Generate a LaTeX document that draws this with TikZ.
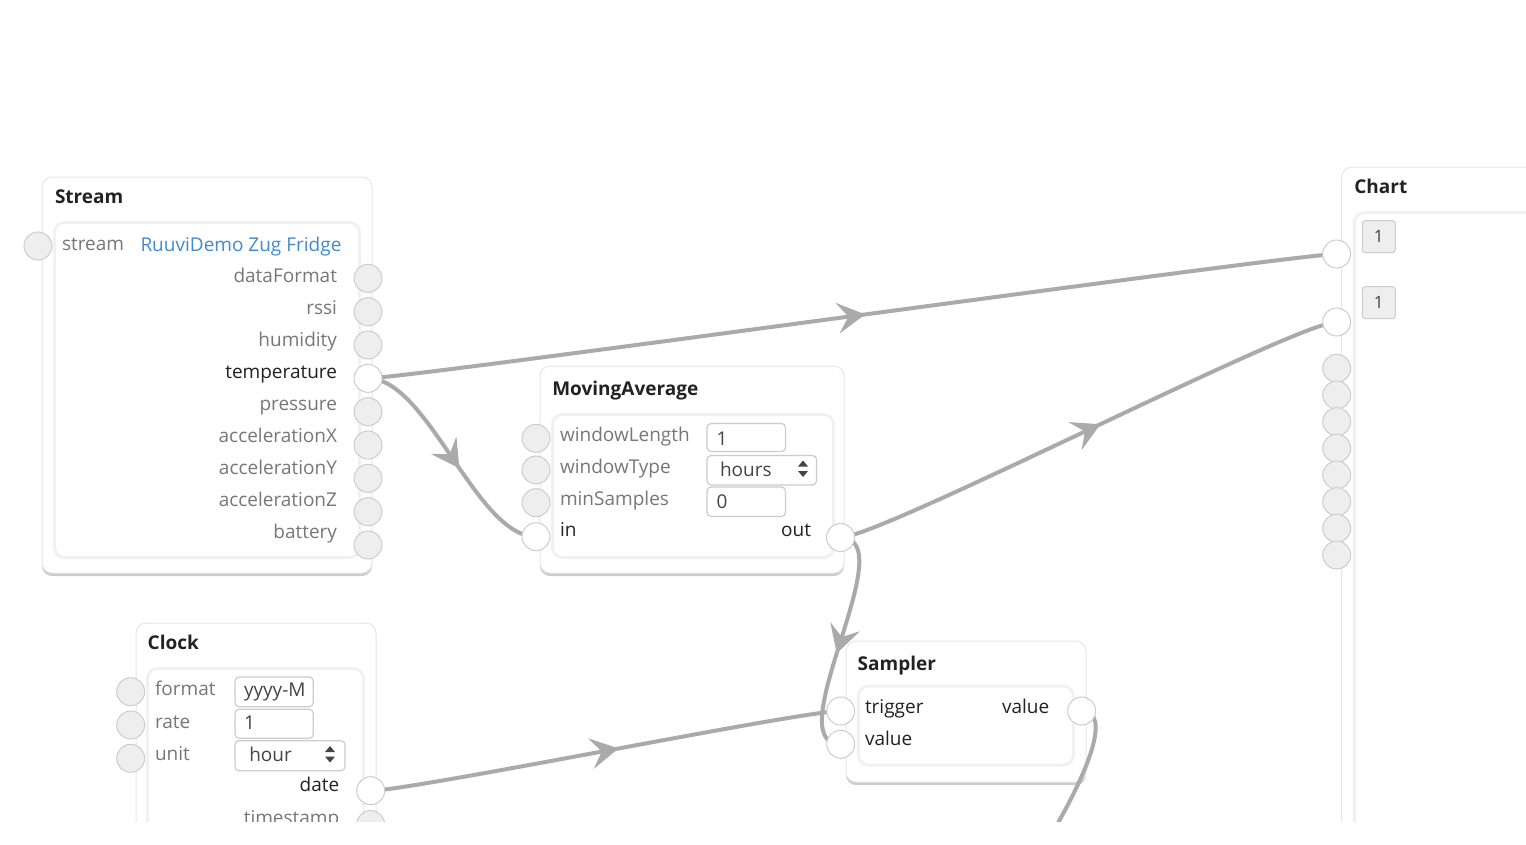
\documentclass[tikz,border=0pt]{standalone}
\usepackage{fontspec}
\setmainfont{Open Sans}
\usetikzlibrary{arrows.meta,decorations.markings}
\pgfdeclarelayer{boxes}
\pgfdeclarelayer{wires}
\pgfdeclarelayer{cover}
\pgfsetlayers{boxes,wires,main,cover}
\definecolor{edgec}{HTML}{AAAAAA}
\definecolor{portfill}{HTML}{EEEEEE}
\definecolor{portline}{HTML}{CCCCCC}
\definecolor{lblgray}{HTML}{777777}
\definecolor{lblblack}{HTML}{222222}
\definecolor{linkblue}{HTML}{428BCA}
\definecolor{boxline}{HTML}{E6E6E6}
\definecolor{innerline}{HTML}{DADADA}
\definecolor{innershade}{HTML}{F1F1F1}
\definecolor{shadowc}{HTML}{CCCCCC}
\definecolor{fieldtext}{HTML}{444444}
\definecolor{btnfill}{HTML}{EEEEEE}
\tikzset{
  every node/.style={font=\fontsize{19}{23}\selectfont, inner sep=0pt, outer sep=0pt},
  port/.style={circle, minimum size=28pt, draw=portline, fill=portfill, line width=1pt},
  portlinked/.style={port, fill=white},
  lbl/.style={text=lblgray},
  lblon/.style={text=lblblack},
  nodetitle/.style={font=\fontsize{19}{23}\selectfont\bfseries, text=lblblack, anchor=base west},
  outerbox/.style={anchor=north west, draw=boxline, fill=white, rounded corners=10pt, line width=1pt,
    preaction={fill=shadowc, transform canvas={yshift=-3pt}}},
  innerbox/.style={anchor=north west, draw=innerline, fill=white, rounded corners=10pt, line width=1pt,
    postaction={draw=innershade, line width=3pt}},
  field/.style={anchor=north west, draw=portline, fill=white, rounded corners=4pt, line width=1.2pt},
  fieldtxt/.style={anchor=base west, text=fieldtext},
  chartbtn/.style={anchor=north west, draw=portline, fill=btnfill, rounded corners=3pt, line width=1pt,
    minimum width=33pt, minimum height=32pt, font=\fontsize{17}{20}\selectfont, text=fieldtext},
  wire/.style={draw=edgec, line width=4pt, postaction={decorate},
    decoration={markings, mark=at position 0.5 with {\pgftransformxshift{13pt}\arrow[edgec, line width=1pt]{Stealth[length=28pt,width=31pt,inset=11pt]}}}},
  plainwire/.style={draw=edgec, line width=4pt},
  selarrow/.style={fill=fieldtext},
}
\begin{document}
\begin{tikzpicture}[x=1pt,y=-1pt]
\useasboundingbox (0,0) rectangle (1526,844);

% ---------------- boxes ----------------
\begin{pgfonlayer}{boxes}
\node[outerbox, minimum width=330pt, minimum height=396pt] (streambox) at (42,177) {};
\node[innerbox, minimum width=305pt, minimum height=335pt] (streaminner) at (54.5,222.5) {};

\node[outerbox, minimum width=304pt, minimum height=207pt] (mabox) at (540,366) {};
\node[innerbox, minimum width=281pt, minimum height=143pt] (mainner) at (552.5,414.5) {};

\node[outerbox, minimum width=240pt, minimum height=300pt] (clockbox) at (136,623) {};
\node[innerbox, minimum width=216pt, minimum height=250pt] (clockinner) at (147.5,668.5) {};

\node[outerbox, minimum width=240pt, minimum height=141pt] (samplerbox) at (846,641) {};
\node[innerbox, minimum width=215pt, minimum height=79pt] (samplerinner) at (858.3,686) {};

\node[outerbox, minimum width=400pt, minimum height=800pt] (chartbox) at (1341.7,167) {};
\node[innerbox, minimum width=400pt, minimum height=800pt] (chartinner) at (1354.3,212.7) {};
\end{pgfonlayer}

\node[nodetitle] (streamtitle) at (55,203) {Stream};
\node[nodetitle] (matitle) at (552.3,395) {MovingAverage};
\node[nodetitle] (clocktitle) at (147.7,649.3) {Clock};
\node[nodetitle] (samplertitle) at (857.7,670) {Sampler};
\node[nodetitle] (charttitle) at (1354.3,193.3) {Chart};

% ---------------- Stream texts ----------------
\node[lbl, anchor=base west] (st-inlbl) at (62,250) {stream};
\node[anchor=base west, text=linkblue] (st-val) at (140.5,251) {RuuviDemo Zug Fridge};
\foreach \nm/\by/\lb in {df/282/dataFormat, rssi/314/rssi, hum/346/humidity, pres/410/pressure,
  ax/442/accelerationX, ay/474/accelerationY, az/506/accelerationZ, bat/538/battery}
  \node[lbl, anchor=base east] (st-\nm-lbl) at (337,\by) {\lb};
\node[lblon, anchor=base east] (st-temp-lbl) at (337,378) {temperature};

% ---------------- MovingAverage texts ----------------
\node[lbl, anchor=base west] (ma-wl-lbl) at (560,441.7) {windowLength};
\node[lbl, anchor=base west] (ma-wt-lbl) at (560,473.3) {windowType};
\node[lbl, anchor=base west] (ma-ms-lbl) at (560,505.7) {minSamples};
\node[lblon, anchor=base west] (ma-in-lbl) at (560,536.7) {in};
\node[lblon, anchor=base east] (ma-out-lbl) at (811,536.7) {out};
\node[field, minimum width=78.5pt, minimum height=28pt] (ma-wl-f) at (707,423.5) {};
\node[fieldtxt] (ma-wl-v) at (716.5,445) {1};
\node[field, minimum width=109.5pt, minimum height=29.5pt] (ma-wt-f) at (707,455.5) {};
\node[fieldtxt] (ma-wt-v) at (720,476.7) {hours};
\fill[selarrow] (798,466.5) -- (808,466.5) -- (803,460.5) -- cycle;
\fill[selarrow] (798,471) -- (808,471) -- (803,477) -- cycle;
\node[field, minimum width=78.5pt, minimum height=29.5pt] (ma-ms-f) at (707,487) {};
\node[fieldtxt] (ma-ms-v) at (716.5,508.3) {0};

% ---------------- Clock texts ----------------
\node[lbl, anchor=base west] (cl-fmt-lbl) at (155,695) {format};
\node[lbl, anchor=base west] (cl-rate-lbl) at (155,728.3) {rate};
\node[lbl, anchor=base west] (cl-unit-lbl) at (155,760) {unit};
\node[field, minimum width=78.3pt, minimum height=29.7pt] (cl-fmt-f) at (235,677) {};
\node[fieldtxt] (cl-fmt-v) at (244,696) {yyyy-M};
\node[field, minimum width=78.3pt, minimum height=29pt] (cl-rate-f) at (235,709.3) {};
\node[fieldtxt] (cl-rate-v) at (244,729) {1};
\node[field, minimum width=110pt, minimum height=30pt] (cl-unit-f) at (235,740.7) {};
\node[fieldtxt] (cl-unit-v) at (249.3,761.7) {hour};
\fill[selarrow] (325,752) -- (335,752) -- (330,746) -- cycle;
\fill[selarrow] (325,756.5) -- (335,756.5) -- (330,762.5) -- cycle;
\node[lblon, anchor=base east] (cl-date-lbl) at (339.3,791.7) {date};
\node[lbl, anchor=base east] (cl-ts-lbl) at (339.3,824.5) {timestamp};

% ---------------- Sampler texts ----------------
\node[lblon, anchor=base west] (sa-trig-lbl) at (865,713.3) {trigger};
\node[lblon, anchor=base west] (sa-val-lbl) at (865,745) {value};
\node[lblon, anchor=base east] (sa-out-lbl) at (1049.3,713.3) {value};

% ---------------- Chart buttons ----------------
\node[chartbtn] (ch-b1) at (1362.3,220.7) {1};
\node[chartbtn] (ch-b2) at (1362.3,286.7) {1};

% ---------------- ports ----------------
\node[port] (st-in) at (38,246) {};
\foreach \nm/\yy in {df/278.3, rssi/311.7, hum/345, pres/411.7, ax/445, ay/478.3, az/511.7, bat/545}
  \node[port] (st-\nm) at (368,\yy) {};
\node[portlinked] (st-temp) at (368,378.3) {};

\node[port] (ma-wl) at (536,438.3) {};
\node[port] (ma-wt) at (536,470) {};
\node[port] (ma-ms) at (536,502.7) {};
\node[portlinked] (ma-in) at (536,536.7) {};
\node[portlinked] (ma-out) at (840.5,537.5) {};

\node[port] (cl-fmt) at (130.7,691.7) {};
\node[port] (cl-rate) at (130.7,725) {};
\node[port] (cl-unit) at (130.7,758.3) {};
\node[portlinked] (cl-date) at (370.7,790.7) {};
\node[port] (cl-ts) at (370.7,824.5) {};

\node[portlinked] (sa-trig) at (840.7,711) {};
\node[portlinked] (sa-val) at (840.7,744.3) {};
\node[portlinked] (sa-out) at (1081.7,711) {};

\node[portlinked] (ch-p1) at (1336.7,254) {};
\node[portlinked] (ch-p2) at (1336.7,322) {};
\foreach \k/\yy in {3/368.3, 4/395, 5/421.7, 6/448.3, 7/475, 8/501.7, 9/528.3, 10/555}
  \node[port] (ch-p\k) at (1336.7,\yy) {};

% ---------------- wires ----------------
\coordinate (offbelow) at (1036,860);
\begin{pgfonlayer}{wires}
\draw[wire] (st-temp.center) .. controls +(40,0) and +(-40,0) .. (ch-p1.center);
\draw[wire] (st-temp.center) .. controls +(60,0) and +(-60,0) .. (ma-in.center);
\draw[wire] (ma-out.center) .. controls +(40,0) and +(-40,0) .. (ch-p2.center);
\draw[wire] (ma-out.center) .. controls +(65,0) and +(-65,0) .. (sa-val.center);
\draw[wire] (cl-date.center) .. controls +(40,0) and +(-40,0) .. (sa-trig.center);
\draw[plainwire] (sa-out.center) .. controls +(30,0) and (1092,770) .. (offbelow);
\end{pgfonlayer}

% ---------------- cut at the bottom ----------------
\begin{pgfonlayer}{cover}
\fill[white] (-20,822) rectangle (1546,870);
\end{pgfonlayer}
\end{tikzpicture}
\end{document}
